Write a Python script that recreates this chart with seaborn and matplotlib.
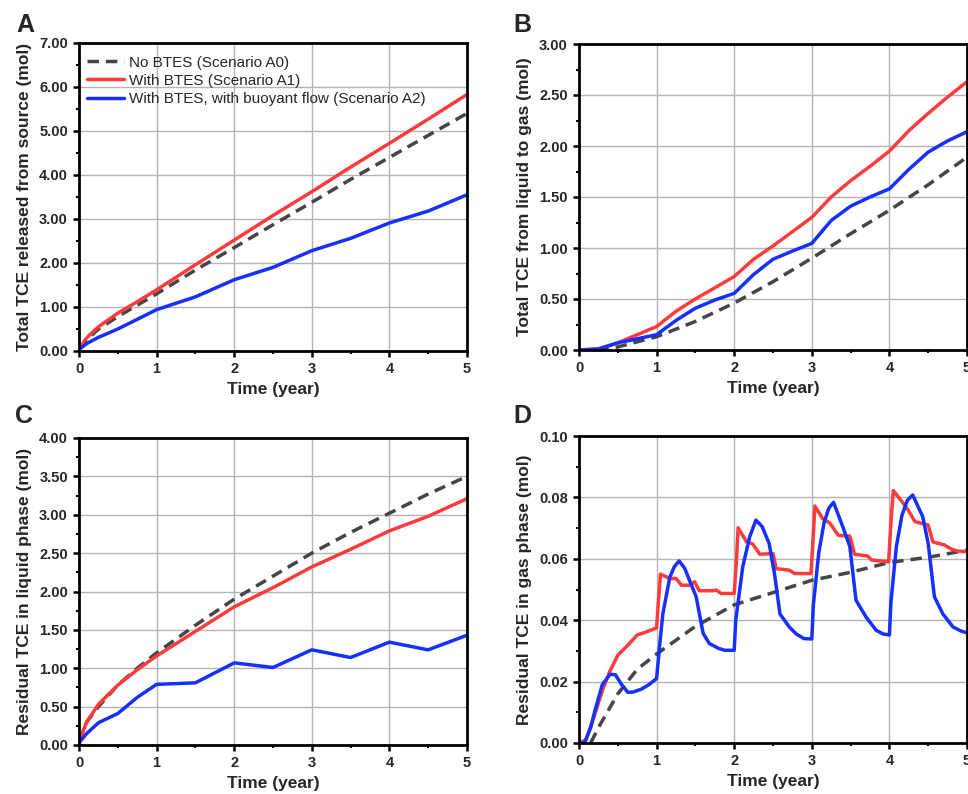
import numpy as np
import pandas as pd
import matplotlib
matplotlib.use("Agg")
import matplotlib.pyplot as plt
from matplotlib.ticker import MultipleLocator, FormatStrFormatter
import seaborn as sns

# ---------------- data ----------------
labels = ["No BTES (Scenario A0)", "With BTES (Scenario A1)",
          "With BTES, with buoyant flow (Scenario A2)"]

# Panel A: total TCE released from source (mol)
tA = [0, 0.1, 0.25, 0.5, 0.75, 1, 1.5, 2, 2.5, 3, 3.5, 4, 4.5, 5]
A0 = [0.05, 0.25, 0.5, 0.78, 1.04, 1.3, 1.84, 2.35, 2.87, 3.38, 3.9, 4.4, 4.9, 5.4]
A1 = [0.05, 0.3, 0.55, 0.86, 1.12, 1.39, 1.96, 2.52, 3.08, 3.62, 4.18, 4.72, 5.27, 5.83]
A2 = [0.03, 0.17, 0.31, 0.5, 0.72, 0.94, 1.23, 1.62, 1.9, 2.28, 2.56, 2.91, 3.18, 3.55]

# Panel B: total TCE from liquid to gas (mol)
tB = [0, 0.25, 0.5, 0.75, 1, 1.25, 1.5, 1.75, 2, 2.25, 2.5, 2.75, 3,
      3.25, 3.5, 3.75, 4, 4.25, 4.5, 4.75, 5]
B1 = [0, 0.01, 0.07, 0.15, 0.23, 0.38, 0.5, 0.61, 0.72, 0.89, 1.02, 1.16, 1.3,
      1.5, 1.66, 1.8, 1.95, 2.15, 2.32, 2.48, 2.63]
B2 = [0, 0.01, 0.07, 0.11, 0.15, 0.29, 0.41, 0.49, 0.555, 0.74, 0.89, 0.97, 1.045,
      1.27, 1.41, 1.5, 1.58, 1.77, 1.94, 2.05, 2.14]
tB0 = [0, 0.25, 0.5, 1, 1.5, 2, 2.5, 3, 3.5, 4, 4.5, 5]
B0 = [0, 0, 0.03, 0.13, 0.28, 0.46, 0.67, 0.9, 1.14, 1.37, 1.62, 1.89]

# Panel C: residual TCE in liquid phase (mol)
tC = [0, 0.1, 0.25, 0.5, 0.75, 1, 1.5, 2, 2.5, 3, 3.5, 4, 4.5, 5]
C0 = [0.05, 0.3, 0.5, 0.78, 1.0, 1.2, 1.56, 1.9, 2.2, 2.5, 2.77, 3.02, 3.27, 3.5]
C1 = [0.05, 0.3, 0.53, 0.78, 0.98, 1.16, 1.48, 1.8, 2.05, 2.32, 2.55, 2.79, 2.98, 3.21]
C2 = [0.03, 0.15, 0.29, 0.41, 0.62, 0.79, 0.81, 1.07, 1.01, 1.24, 1.14, 1.34, 1.24, 1.43]

# Panel D: residual TCE in gas phase (mol)
tD0 = [0.15, 0.25, 0.5, 0.75, 1, 1.5, 2, 2.5, 3, 3.5, 4, 4.5, 5]
D0 = [0, 0.005, 0.016, 0.024, 0.029, 0.038, 0.045, 0.049, 0.053, 0.0556, 0.0588, 0.0605, 0.0628]

tD1 = [0, 0.09, 0.2, 0.3, 0.4, 0.5, 0.65, 0.75, 0.87, 1.0, 1.02, 1.05,
       1.17, 1.25, 1.32, 1.43, 1.49, 1.55, 1.72, 1.77, 1.83, 2.0,
       2.03, 2.05, 2.16, 2.24, 2.33, 2.5, 2.54, 2.71, 2.78, 2.99,
       3.02, 3.04, 3.14, 3.23, 3.34, 3.49, 3.55, 3.72, 3.77, 3.99,
       4.02, 4.05, 4.18, 4.24, 4.33, 4.5, 4.56, 4.71, 4.78, 4.86, 5.0]
D1 = [0, 0.001, 0.009, 0.017, 0.0235, 0.0286, 0.0324, 0.0352, 0.0362, 0.0375, 0.045, 0.055,
      0.0536, 0.0536, 0.0514, 0.0514, 0.0525, 0.0496, 0.0496, 0.0498, 0.0487, 0.0487,
      0.06, 0.0701, 0.0655, 0.0648, 0.0615, 0.0617, 0.0568, 0.0563, 0.0552, 0.0552,
      0.068, 0.0772, 0.0731, 0.0717, 0.0677, 0.0674, 0.0615, 0.0609, 0.0596, 0.059,
      0.072, 0.0822, 0.078, 0.0759, 0.0721, 0.071, 0.0655, 0.0645, 0.0634, 0.0626, 0.0623]

tD2 = [0, 0.07, 0.15, 0.2, 0.3, 0.4, 0.47, 0.55, 0.63, 0.7, 0.8, 0.9, 1.0,
       1.04, 1.08, 1.17, 1.23, 1.29, 1.36, 1.44, 1.51, 1.6, 1.68, 1.8, 1.88, 2.0,
       2.02, 2.11, 2.2, 2.28, 2.36, 2.45, 2.52, 2.59, 2.71, 2.8, 2.9, 3.0,
       3.02, 3.09, 3.16, 3.22, 3.28, 3.4, 3.49, 3.57, 3.7, 3.83, 3.92, 4.0,
       4.02, 4.09, 4.16, 4.23, 4.3, 4.43, 4.5, 4.58, 4.69, 4.82, 4.92, 5.0]
D2 = [0, 0, 0.005, 0.01, 0.019, 0.0224, 0.0222, 0.019, 0.0165, 0.0166, 0.0175, 0.019, 0.021,
      0.032, 0.042, 0.054, 0.0575, 0.0593, 0.057, 0.052, 0.0476, 0.0357, 0.0324, 0.0308, 0.0302, 0.0302,
      0.04, 0.0574, 0.0672, 0.0726, 0.0705, 0.065, 0.055, 0.042, 0.0378, 0.0355, 0.034, 0.0339,
      0.045, 0.062, 0.072, 0.0765, 0.0784, 0.0704, 0.064, 0.0465, 0.041, 0.0367, 0.0355, 0.0352,
      0.046, 0.064, 0.074, 0.079, 0.0808, 0.0737, 0.065, 0.0476, 0.042, 0.0378, 0.0365, 0.0359]

# ---------------- style ----------------
sns.set_style("ticks")
plt.rcParams['font.family'] = ['Liberation Sans', 'DejaVu Sans']
plt.rcParams['font.weight'] = 'bold'
plt.rcParams['axes.labelweight'] = 'bold'

GREY = '#454545'
RED = '#ff3b3b'
BLUE = '#1530ff'
LW = 2.5
DASH = (0, (3.3, 2.0))

fig = plt.figure(figsize=(9.68, 7.94), dpi=100)

W, H = 968, 794
def rect(l, t, r, b):
    return [l / W, 1 - b / H, (r - l) / W, (b - t) / H]

panels = [
    dict(rect=rect(79, 43, 467, 351), ymax=7.0, ymaj=1.0, ymin=0.5,
         ylabel="Total TCE released from source (mol)", letter="A", lx=16, ly=32,
         series=[(tA, A0, 0), (tA, A1, 1), (tA, A2, 2)]),
    dict(rect=rect(579, 44, 967, 350), ymax=3.0, ymaj=0.5, ymin=0.25,
         ylabel="Total TCE from liquid to gas (mol)", letter="B", lx=513, ly=32,
         series=[(tB0, B0, 0), (tB, B1, 1), (tB, B2, 2)]),
    dict(rect=rect(79, 438, 467, 745), ymax=4.0, ymaj=0.5, ymin=0.25,
         ylabel="Residual TCE in liquid phase (mol)", letter="C", lx=15, ly=423,
         series=[(tC, C0, 0), (tC, C1, 1), (tC, C2, 2)]),
    dict(rect=rect(579, 436, 967, 743), ymax=0.10, ymaj=0.02, ymin=0.01,
         ylabel="Residual TCE in gas phase (mol)", letter="D", lx=513, ly=423,
         series=[(tD0, D0, 0), (tD1, D1, 1), (tD2, D2, 2)]),
]

styles = {0: dict(color=GREY, linestyle=DASH), 1: dict(color=RED), 2: dict(color=BLUE)}

for p in panels:
    ax = fig.add_axes(p['rect'])
    ax.set_axisbelow(True)
    for t, v, k in p['series']:
        df = pd.DataFrame({'t': t, 'v': v})
        sns.lineplot(data=df, x='t', y='v', ax=ax, sort=False, estimator=None,
                     lw=LW, label=labels[k], legend=False, **styles[k])
    ax.set_xlim(0, 5)
    ax.set_ylim(0, p['ymax'])
    ax.xaxis.set_major_locator(MultipleLocator(1))
    ax.xaxis.set_minor_locator(MultipleLocator(0.5))
    ax.yaxis.set_major_locator(MultipleLocator(p['ymaj']))
    ax.yaxis.set_minor_locator(MultipleLocator(p['ymin']))
    ax.xaxis.set_major_formatter(FormatStrFormatter('%d'))
    ax.yaxis.set_major_formatter(FormatStrFormatter('%.2f'))
    ax.grid(True, which='major', color='#b4b4b4', lw=1.0)
    for s in ax.spines.values():
        s.set_visible(True)
        s.set_color('black')
        s.set_linewidth(2.0)
    ax.tick_params(which='major', direction='out', length=4.5, width=1.8,
                   labelsize=10.5, pad=3.5, color='black')
    ax.tick_params(which='minor', direction='out', length=2.5, width=1.5, color='black')
    ax.set_xlabel("Time (year)", fontsize=12.5, fontweight='bold', labelpad=4)
    ax.set_ylabel(p['ylabel'], fontsize=12.5, fontweight='bold', labelpad=5)
    fig.text(p['lx'] / W, 1 - p['ly'] / H, p['letter'], fontsize=18,
             fontweight='bold', ha='left', va='baseline')
    if p['letter'] == 'A':
        ax.legend(handles=ax.lines[:3], labels=labels, loc='upper left',
                  bbox_to_anchor=(0.0, 1.0 - 5 / 308), frameon=False,
                  prop={'weight': 'normal', 'size': 11},
                  handlelength=2.45, handletextpad=0.3, labelspacing=0.27,
                  borderaxespad=0.1, borderpad=0.4)

fig.savefig("out.png", dpi=100)
